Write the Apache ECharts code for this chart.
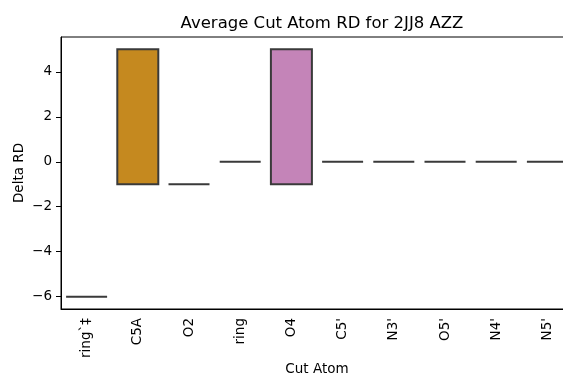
<!DOCTYPE html>
<html>
<head>
<meta charset="utf-8">
<script src="https://cdn.jsdelivr.net/npm/echarts@6/dist/echarts.min.js"></script>
<style>
  html, body { margin: 0; padding: 0; background: #fff; }
  #main { width: 563px; height: 376px; }
</style>
</head>
<body>
<div id="main"></div>
<script>
// 数据
var categories = ['ring`\u2021', 'C5A', 'O2', 'ring', 'O4', "C5'", "N3'", "O5'", "N4'", "N5'"];
var lowValues = [-6, -1, -1, 0, -1, 0, 0, 0, 0, 0];
var q1Values = [-6, -1, -1, 0, -1, 0, 0, 0, 0, 0];
var medianValues = [-6, 5, -1, 0, 5, 0, 0, 0, 0, 0];
var q3Values = [-6, 5, -1, 0, 5, 0, 0, 0, 0, 0];
var highValues = [-6, 5, -1, 0, 5, 0, 0, 0, 0, 0];
var yTicks = [-6, -4, -2, 0, 2, 4];
var boxColors = ['#2a6f9e', '#c5891f', '#2c8a6b', '#b95f2a', '#c484b8',
                 '#b8926a', '#e3b5d6', '#949494', '#d2c75c', '#68a9d1'];

var boxData = categories.map(function (c, i) {
    return {
        value: [lowValues[i], q1Values[i], medianValues[i], q3Values[i], highValues[i]],
        itemStyle: { color: boxColors[i] }
    };
});

var myChart = echarts.init(document.getElementById('main'));
var option = {
    backgroundColor: '#fff',
    animation: false,
    textStyle: { fontFamily: 'DejaVu Sans' },
    title: {
        text: 'Average Cut Atom RD for 2JJ8 AZZ',
        left: 317,
        textAlign: 'center',
        top: 10,
        textStyle: { fontSize: 16.5, fontWeight: 'normal', color: '#000', fontFamily: 'DejaVu Sans' }
    },
    grid: {
        left: 61,
        top: 37,
        width: 512,
        height: 272,
        outerBoundsMode: 'none',
        show: true,
        borderColor: '#000',
        borderWidth: 1,
        backgroundColor: 'transparent'
    },
    xAxis: {
        type: 'category',
        data: categories,
        name: 'Cut Atom',
        nameLocation: 'middle',
        nameGap: 53,
        nameMoveOverlap: false,
        nameTextStyle: { fontSize: 13.5, color: '#000' },
        axisLine: { onZero: false, lineStyle: { color: '#000', width: 1 } },
        axisTick: { alignWithLabel: true, length: 5, lineStyle: { color: '#000' } },
        axisLabel: { rotate: 90, fontSize: 13.5, color: '#000', margin: 9 },
        splitLine: { show: false }
    },
    yAxis: {
        type: 'value',
        min: -6.55,
        max: 5.55,
        name: 'Delta RD',
        nameLocation: 'middle',
        nameGap: 35,
        nameMoveOverlap: false,
        nameTextStyle: { fontSize: 13.5, color: '#000' },
        axisLine: { show: true, lineStyle: { color: '#000', width: 1 } },
        axisTick: { show: true, length: 5, customValues: yTicks, lineStyle: { color: '#000' } },
        axisLabel: {
            fontSize: 13.5,
            color: '#000',
            margin: 9,
            customValues: yTicks,
            formatter: function (v) { return v < 0 ? '\u2212' + Math.abs(v) : String(v); }
        },
        splitLine: { show: false }
    },
    series: [{
        type: 'boxplot',
        data: boxData,
        boxWidth: [41, 41],
        itemStyle: { borderColor: '#3a3a3a', borderWidth: 2 },
        emphasis: { disabled: true }
    }]
};
myChart.setOption(option);
</script>
</body>
</html>
